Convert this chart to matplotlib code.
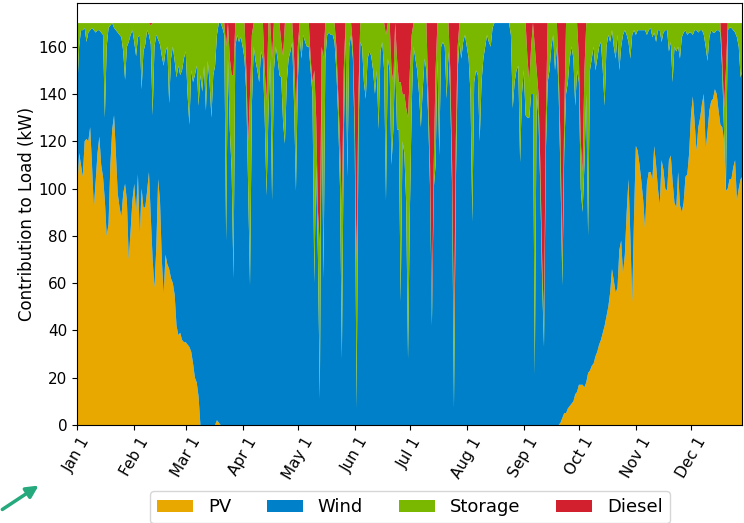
"""Daily contribution of each source to a 170 kW load over one year."""

import matplotlib

matplotlib.use("Agg")
import matplotlib.dates as mdates
import matplotlib.pyplot as plt
import numpy as np
import pandas as pd
from matplotlib.patches import FancyArrowPatch

LOAD_KW = 170.0
N_DAYS = 363

# PV (kW): winter/spring days 0-77, nothing until day 262,
# then autumn/winter days 262-362
pv_early = [
    100, 115, 110, 105, 120, 121, 120, 126, 110, 92,
    103, 115, 122, 110, 105, 95, 80, 85, 110, 125,
    131, 115, 98, 92, 88, 98, 102, 95, 70, 82,
    95, 102, 90, 106, 80, 100, 92, 92, 99, 107,
    88, 70, 58, 75, 104, 95, 70, 55, 72, 68,
    66, 62, 60, 55, 42, 38, 39, 36, 35, 35,
    34, 33, 31, 26, 20, 18, 12, 0, 0, 0,
    0, 0, 0, 0, 0, 0, 2, 1,
]
pv_summer_gap = [0] * 184
pv_late = [
    0, 1, 3, 5, 5, 7, 8, 9, 10, 13,
    14, 17, 17, 17, 16, 18, 22, 23, 25, 26,
    29, 31, 34, 36, 39, 42, 46, 50, 56, 66,
    61, 56, 58, 74, 78, 64, 72, 90, 104, 80,
    52, 88, 118, 116, 110, 103, 95, 83, 102, 107,
    107, 104, 118, 110, 100, 93, 112, 108, 100, 99,
    112, 114, 103, 94, 92, 107, 93, 90, 94, 105,
    106, 115, 131, 139, 128, 116, 126, 130, 136, 140,
    117, 124, 133, 137, 138, 142, 140, 133, 127, 126,
    120, 99, 100, 104, 104, 109, 112, 95, 100, 104,
    105,
]

# storage discharge (kW), one value per day
storage = [
    28, 10, 3, 3, 2, 8, 4, 3, 2, 3,
    4, 3, 3, 4, 5, 40, 10, 2, 1, 0,
    2, 3, 4, 5, 6, 12, 24, 10, 8, 5,
    3, 8, 14, 6, 5, 28, 12, 9, 3, 5,
    8, 39, 10, 5, 7, 9, 14, 18, 12, 10,
    34, 15, 10, 16, 23, 18, 22, 20, 15, 12,
    30, 43, 20, 25, 22, 18, 35, 22, 29, 18,
    37, 16, 25, 40, 22, 18, 5, 0, 0, 2,
    5, 82, 15, 30, 40, 86, 10, 5, 8, 6,
    10, 15, 10, 20, 81, 30, 10, 16, 20, 25,
    12, 15, 20, 40, 39, 15, 60, 20, 10, 15,
    22, 15, 28, 51, 25, 15, 12, 8, 20, 32,
    15, 5, 15, 5, 8, 10, 10, 5, 5, 90,
    20, 20, 64, 20, 93, 15, 5, 4, 5, 5,
    8, 10, 10, 20, 61, 30, 3, 65, 10, 5,
    5, 10, 62, 20, 8, 10, 25, 32, 15, 12,
    14, 20, 30, 20, 45, 12, 8, 20, 70, 15,
    20, 40, 20, 15, 30, 20, 93, 20, 25, 40,
    102, 60, 30, 10, 15, 20, 30, 44, 28, 15,
    20, 10, 10, 5, 10, 40, 15, 56, 10, 8,
    10, 32, 12, 10, 10, 28, 20, 10, 8, 15,
    8, 5, 10, 15, 30, 84, 25, 20, 22, 50,
    25, 15, 10, 5, 8, 10, 2, 0, 0, 0,
    0, 0, 0, 0, 0, 0, 5, 36, 25, 20,
    18, 59, 30, 20, 39, 25, 15, 20, 30, 139,
    10, 10, 10, 10, 10, 15, 25, 20, 10, 5,
    20, 10, 10, 15, 11, 15, 30, 25, 15, 10,
    15, 35, 20, 10, 20, 17, 40, 30, 90, 20,
    15, 10, 20, 15, 10, 8, 20, 35, 10, 5,
    8, 3, 10, 15, 5, 20, 10, 5, 3, 5,
    8, 15, 5, 3, 5, 3, 3, 3, 3, 3,
    5, 3, 2, 6, 4, 8, 3, 3, 8, 4,
    3, 3, 12, 8, 25, 10, 12, 10, 15, 6,
    4, 3, 5, 4, 4, 5, 3, 3, 4, 3,
    3, 5, 10, 16, 6, 3, 4, 4, 3, 3,
    4, 5, 10, 51, 3, 2, 2, 3, 4, 6,
    10, 23, 20,
]

# diesel only runs on a few days: (day of year, kW)
diesel_days = [
    40, 81, 83, 84, 85, 92, 93, 94, 95, 102, 103, 106, 111, 112, 118, 119,
    120, 127, 128, 129, 130, 131, 132, 133, 134, 141, 142, 143, 144, 145,
    150, 151, 152, 153, 168, 171, 172, 174, 175, 176, 177, 178, 179, 180,
    181, 182, 191, 192, 193, 194, 195, 203, 204, 205, 206, 207, 245, 246,
    247, 249, 250, 251, 252, 253, 254, 255, 262, 263, 264, 265, 273, 274,
    275, 276, 351, 352, 353,
]
diesel_kw = [
    1, 10, 15, 22, 22, 20, 50, 30, 5, 20, 33, 15, 8, 14, 15, 39,
    10, 15, 25, 20, 40, 80, 95, 10, 15, 10, 30, 50, 81, 20,
    10, 40, 101, 30, 5, 20, 25, 15, 25, 25, 30, 30, 36, 40,
    20, 5, 30, 60, 123, 60, 20, 20, 60, 135, 50, 10, 15, 25,
    10, 10, 20, 30, 60, 100, 127, 40, 20, 50, 100, 40, 15, 50,
    63, 20, 15, 36, 20,
]

labels = ["PV", "Wind", "Storage", "Diesel"]
colors = ["#E9A800", "#0080C9", "#7AB800", "#D3202F"]


def main() -> None:
    days = pd.date_range("2019-01-01", periods=N_DAYS, freq="D")
    pv = np.array(pv_early + pv_summer_gap + pv_late, dtype=float)
    stor = np.array(storage, dtype=float)
    diesel = np.zeros(N_DAYS)
    diesel[diesel_days] = diesel_kw
    # wind covers whatever the other sources leave of the load
    wind = np.clip(LOAD_KW - pv - stor - diesel, 0, None)

    fig = plt.figure(figsize=(7.44, 5.23), dpi=100)
    ax = fig.add_axes([0.1039, 0.1874, 0.894, 0.8069])
    ax.stackplot(days, pv, wind, stor, diesel, labels=labels,
                 colors=colors, linewidth=0)

    ax.set_xlim(days[0], days[-1])
    ax.set_ylim(0, LOAD_KW * 1.05)
    ax.set_yticks(range(0, 161, 20))
    ax.xaxis.set_major_locator(mdates.MonthLocator())
    ax.xaxis.set_major_formatter(mdates.DateFormatter("%b %-d"))
    ax.tick_params(axis="both", labelsize=11)
    plt.setp(ax.get_xticklabels(), rotation=60)
    ax.set_ylabel("Contribution to Load (kW)", fontsize=12, labelpad=2)

    ax.legend(loc="upper center", bbox_to_anchor=(0.5, -0.135), ncol=4,
              fontsize=13)

    fig.add_artist(FancyArrowPatch((0.0, 1 - 511 / 523), (41 / 744, 1 - 484 / 523),
                                   transform=fig.transFigure, arrowstyle="-|>",
                                   mutation_scale=18, color="#26A97C", lw=2.5))

    fig.savefig("out.png", dpi=100)
    plt.close(fig)


if __name__ == "__main__":
    main()
